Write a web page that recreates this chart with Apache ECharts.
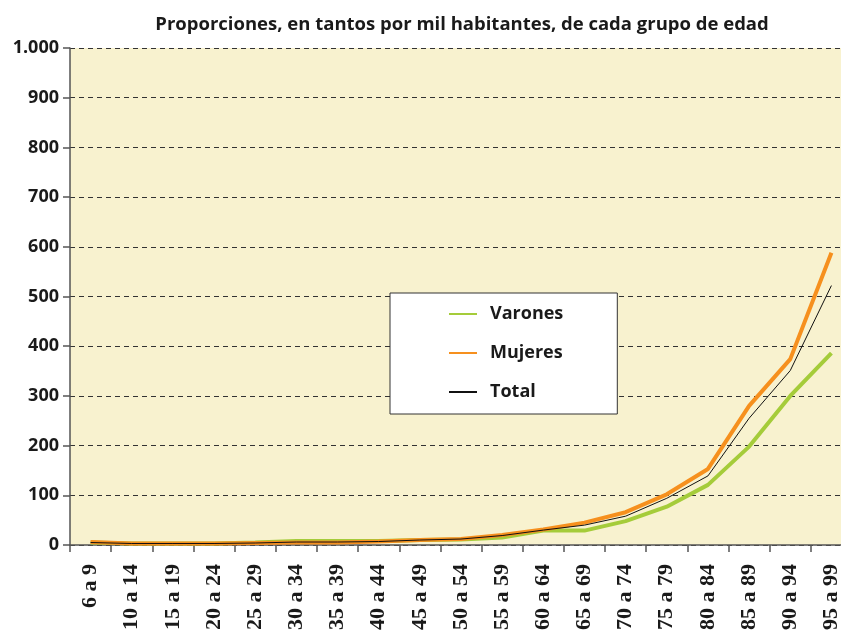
<!DOCTYPE html>
<html>
<head>
<meta charset="utf-8">
<script src="https://cdn.jsdelivr.net/npm/echarts@6/dist/echarts.min.js"></script>
<style>
  html, body { margin: 0; padding: 0; background: #fff; }
  #chart { width: 841px; height: 631px; }
</style>
</head>
<body>
<div id="chart"></div>
<script>
const categories = ['6 a 9', '10 a 14', '15 a 19', '20 a 24', '25 a 29', '30 a 34', '35 a 39',
  '40 a 44', '45 a 49', '50 a 54', '55 a 59', '60 a 64', '65 a 69', '70 a 74', '75 a 79',
  '80 a 84', '85 a 89', '90 a 94', '95 a 99']
const varones = [5, 3, 3, 3, 5, 8, 8, 8, 10, 11, 15, 29, 29, 48, 77, 121, 198, 300, 386]
const mujeres = [6, 3, 3, 3, 4, 5, 5, 7, 10, 12, 20, 31, 45, 66, 102, 153, 280, 374, 588]
const total = [5, 3, 3, 3, 4, 6, 6, 7, 10, 12, 19, 30, 40, 58, 94, 139, 255, 351, 522]

const chart = echarts.init(document.getElementById('chart'))

chart.setOption({
  animation: false,
  title: {
    text: 'Proporciones, en tantos por mil habitantes, de cada grupo de edad',
    left: 457,
    textAlign: 'center',
    top: 10,
    textStyle: { fontFamily: 'Open Sans', fontWeight: 'bold', fontSize: 18.5, color: '#1a1a1a' },
  },
  grid: {
    left: 70, top: 48, bottom: 86, width: 782,
    outerBoundsMode: 'none', containLabel: false,
    backgroundColor: '#F8F2CF', show: true, borderWidth: 0,
  },
  legend: {
    orient: 'vertical',
    left: 390,
    top: 293,
    padding: [12, 54, 13, 58],
    itemGap: 21,
    itemWidth: 28,
    itemHeight: 18,
    itemStyle: { opacity: 0 },
    backgroundColor: '#fff',
    borderColor: '#333',
    borderWidth: 1,
    textStyle: { fontFamily: 'Open Sans', fontWeight: 'bold', fontSize: 18, color: '#1a1a1a', padding: [0, 0, 0, 8] },
    data: ['Varones', 'Mujeres', 'Total'],
  },
  xAxis: {
    type: 'category',
    data: categories,
    boundaryGap: true,
    axisLine: { lineStyle: { color: '#555', width: 1.5 } },
    axisTick: { show: true, length: 7, lineStyle: { color: '#555', width: 1.5 } },
    axisLabel: {
      rotate: 90,
      interval: 0,
      margin: 19,
      fontFamily: 'Liberation Serif',
      fontWeight: 'bold',
      fontSize: 22,
      color: '#1a1a1a',
    },
  },
  yAxis: {
    type: 'value',
    min: 0,
    max: 1000,
    interval: 100,
    axisLine: { show: true, lineStyle: { color: '#555', width: 1.5 } },
    axisTick: { show: true, length: 7, lineStyle: { color: '#555', width: 1.5 } },
    axisLabel: {
      margin: 11,
      fontFamily: 'Open Sans',
      fontWeight: 'bold',
      fontSize: 18,
      color: '#1a1a1a',
      formatter: (v) => v >= 1000 ? '1.000' : String(v),
    },
    splitLine: { show: true, lineStyle: { color: '#333', type: [5, 4], width: 1 } },
  },
  series: [
    {
      name: 'Varones',
      type: 'line',
      data: varones,
      symbol: 'none',
      lineStyle: { color: '#A5CC3A', width: 4 },
      itemStyle: { color: '#A5CC3A' },
      z: 2,
    },
    {
      name: 'Mujeres',
      type: 'line',
      data: mujeres,
      symbol: 'none',
      lineStyle: { color: '#F6901E', width: 4 },
      itemStyle: { color: '#F6901E' },
      z: 3,
    },
    {
      name: 'Total',
      type: 'line',
      data: total,
      symbol: 'none',
      lineStyle: { color: '#111', width: 1 },
      itemStyle: { color: '#111' },
      z: 4,
    },
  ],
})
</script>
</body>
</html>
